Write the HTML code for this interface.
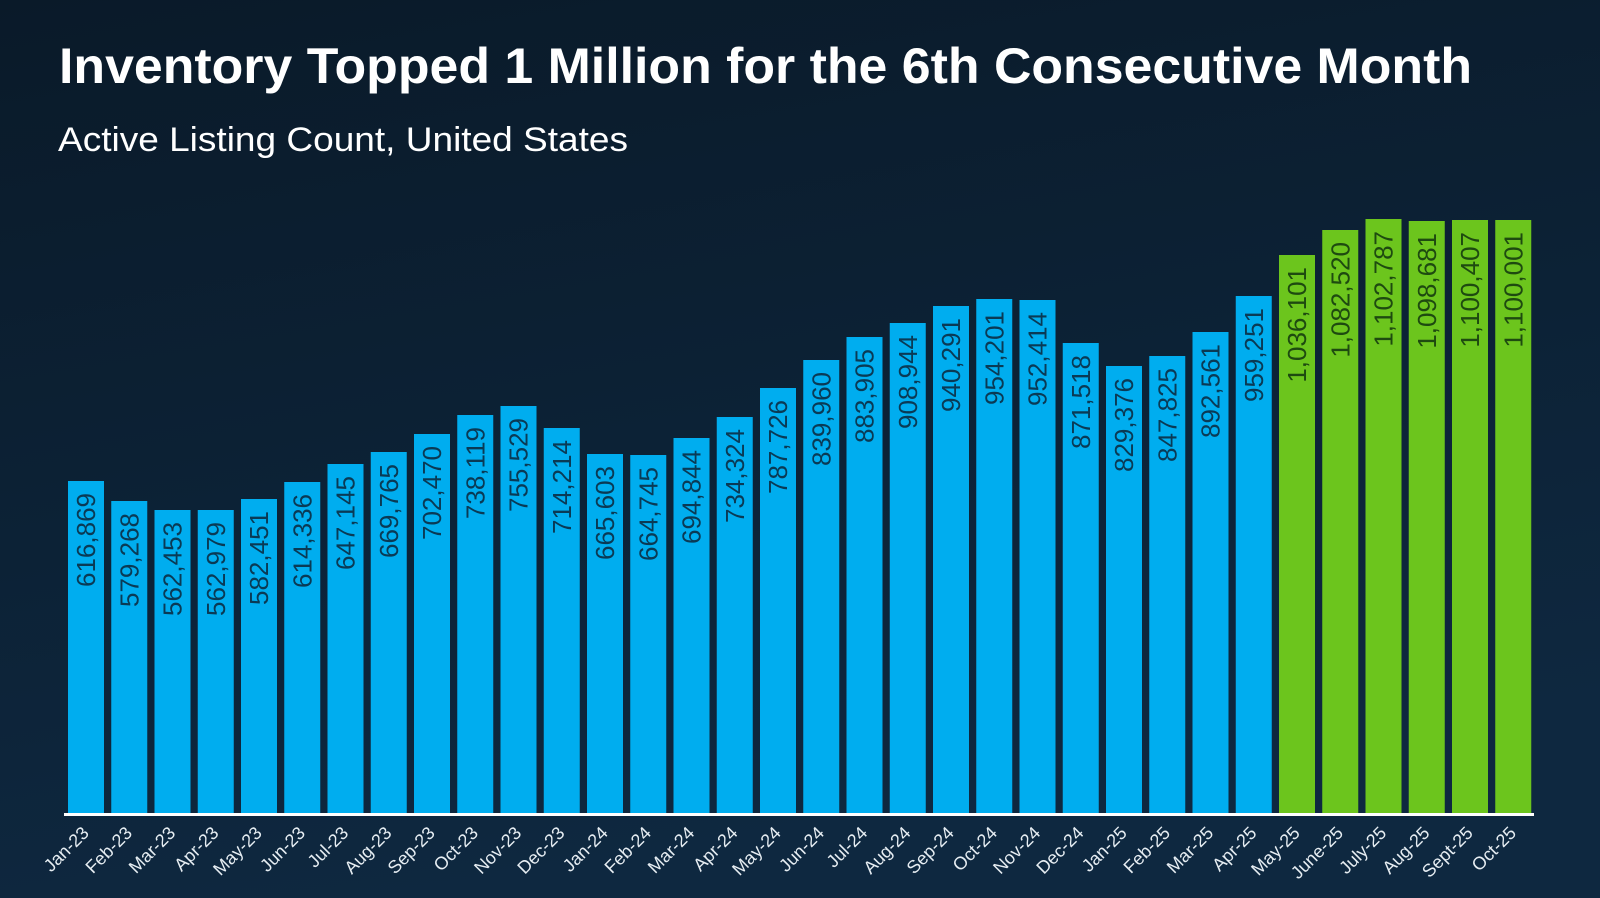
<!DOCTYPE html>
<html><head><meta charset="utf-8"><style>
html,body{margin:0;padding:0;background:#0b1d2d}
svg{display:block}
.t{font-family:"Liberation Sans",sans-serif}
.vb{font-size:26px;fill:#0a3a55;text-anchor:end}
.vg{font-size:26px;fill:#1e4a10;text-anchor:end}
.xl{font-size:18px;fill:#e6edf2;text-anchor:end}
</style></head><body>
<svg width="1600" height="898" viewBox="0 0 1600 898" xmlns="http://www.w3.org/2000/svg" class="t">
<defs><linearGradient id="bg" x1="0" y1="0" x2="0.3" y2="1"><stop offset="0" stop-color="#0a1a29"/><stop offset="1" stop-color="#0e2840"/></linearGradient></defs>
<rect width="1600" height="898" fill="url(#bg)"/>
<text x="59" y="83" font-size="50" font-weight="bold" fill="#fff" textLength="1413" lengthAdjust="spacingAndGlyphs">Inventory Topped 1 Million for the 6th Consecutive Month</text>
<text x="58" y="151" font-size="34" fill="#fff" textLength="570" lengthAdjust="spacingAndGlyphs">Active Listing Count, United States</text>
<g fill="#00adef">
<rect x="68" y="481" width="36" height="332"/>
<rect x="111.25" y="501" width="36" height="312"/>
<rect x="154.5" y="510" width="36" height="303"/>
<rect x="197.75" y="510" width="36" height="303"/>
<rect x="241" y="499" width="36" height="314"/>
<rect x="284.25" y="482" width="36" height="331"/>
<rect x="327.5" y="464" width="36" height="349"/>
<rect x="370.75" y="452" width="36" height="361"/>
<rect x="414" y="434" width="36" height="379"/>
<rect x="457.25" y="415" width="36" height="398"/>
<rect x="500.5" y="406" width="36" height="407"/>
<rect x="543.75" y="428" width="36" height="385"/>
<rect x="587" y="454" width="36" height="359"/>
<rect x="630.25" y="455" width="36" height="358"/>
<rect x="673.5" y="438" width="36" height="375"/>
<rect x="716.75" y="417" width="36" height="396"/>
<rect x="760" y="388" width="36" height="425"/>
<rect x="803.25" y="360" width="36" height="453"/>
<rect x="846.5" y="337" width="36" height="476"/>
<rect x="889.75" y="323" width="36" height="490"/>
<rect x="933" y="306" width="36" height="507"/>
<rect x="976.25" y="299" width="36" height="514"/>
<rect x="1019.5" y="300" width="36" height="513"/>
<rect x="1062.75" y="343" width="36" height="470"/>
<rect x="1106" y="366" width="36" height="447"/>
<rect x="1149.25" y="356" width="36" height="457"/>
<rect x="1192.5" y="332" width="36" height="481"/>
<rect x="1235.75" y="296" width="36" height="517"/>
</g>
<g fill="#6cc51d">
<rect x="1279" y="255" width="36" height="558"/>
<rect x="1322.25" y="230" width="36" height="583"/>
<rect x="1365.5" y="219" width="36" height="594"/>
<rect x="1408.75" y="221" width="36" height="592"/>
<rect x="1452" y="220" width="36" height="593"/>
<rect x="1495.25" y="220" width="36" height="593"/>
</g>
<rect x="64" y="813" width="1470" height="3" fill="#fff"/>
<g class="vb">
<text transform="translate(95,493) rotate(-90)">616,869</text>
<text transform="translate(138.25,513) rotate(-90)">579,268</text>
<text transform="translate(181.5,522) rotate(-90)">562,453</text>
<text transform="translate(224.75,522) rotate(-90)">562,979</text>
<text transform="translate(268,511) rotate(-90)">582,451</text>
<text transform="translate(311.25,494) rotate(-90)">614,336</text>
<text transform="translate(354.5,476) rotate(-90)">647,145</text>
<text transform="translate(397.75,464) rotate(-90)">669,765</text>
<text transform="translate(441,446) rotate(-90)">702,470</text>
<text transform="translate(484.25,427) rotate(-90)">738,119</text>
<text transform="translate(527.5,418) rotate(-90)">755,529</text>
<text transform="translate(570.75,440) rotate(-90)">714,214</text>
<text transform="translate(614,466) rotate(-90)">665,603</text>
<text transform="translate(657.25,467) rotate(-90)">664,745</text>
<text transform="translate(700.5,450) rotate(-90)">694,844</text>
<text transform="translate(743.75,429) rotate(-90)">734,324</text>
<text transform="translate(787,400) rotate(-90)">787,726</text>
<text transform="translate(830.25,372) rotate(-90)">839,960</text>
<text transform="translate(873.5,349) rotate(-90)">883,905</text>
<text transform="translate(916.75,335) rotate(-90)">908,944</text>
<text transform="translate(960,318) rotate(-90)">940,291</text>
<text transform="translate(1003.25,311) rotate(-90)">954,201</text>
<text transform="translate(1046.5,312) rotate(-90)">952,414</text>
<text transform="translate(1089.75,355) rotate(-90)">871,518</text>
<text transform="translate(1133,378) rotate(-90)">829,376</text>
<text transform="translate(1176.25,368) rotate(-90)">847,825</text>
<text transform="translate(1219.5,344) rotate(-90)">892,561</text>
<text transform="translate(1262.75,308) rotate(-90)">959,251</text>
</g>
<g class="vg">
<text transform="translate(1306,267) rotate(-90)">1,036,101</text>
<text transform="translate(1349.25,242) rotate(-90)">1,082,520</text>
<text transform="translate(1392.5,231) rotate(-90)">1,102,787</text>
<text transform="translate(1435.75,233) rotate(-90)">1,098,681</text>
<text transform="translate(1479,232) rotate(-90)">1,100,407</text>
<text transform="translate(1522.25,232) rotate(-90)">1,100,001</text>
</g>
<g class="xl">
<text transform="translate(90,834) rotate(-45)">Jan-23</text>
<text transform="translate(133.25,834) rotate(-45)">Feb-23</text>
<text transform="translate(176.5,834) rotate(-45)">Mar-23</text>
<text transform="translate(219.75,834) rotate(-45)">Apr-23</text>
<text transform="translate(263,834) rotate(-45)">May-23</text>
<text transform="translate(306.25,834) rotate(-45)">Jun-23</text>
<text transform="translate(349.5,834) rotate(-45)">Jul-23</text>
<text transform="translate(392.75,834) rotate(-45)">Aug-23</text>
<text transform="translate(436,834) rotate(-45)">Sep-23</text>
<text transform="translate(479.25,834) rotate(-45)">Oct-23</text>
<text transform="translate(522.5,834) rotate(-45)">Nov-23</text>
<text transform="translate(565.75,834) rotate(-45)">Dec-23</text>
<text transform="translate(609,834) rotate(-45)">Jan-24</text>
<text transform="translate(652.25,834) rotate(-45)">Feb-24</text>
<text transform="translate(695.5,834) rotate(-45)">Mar-24</text>
<text transform="translate(738.75,834) rotate(-45)">Apr-24</text>
<text transform="translate(782,834) rotate(-45)">May-24</text>
<text transform="translate(825.25,834) rotate(-45)">Jun-24</text>
<text transform="translate(868.5,834) rotate(-45)">Jul-24</text>
<text transform="translate(911.75,834) rotate(-45)">Aug-24</text>
<text transform="translate(955,834) rotate(-45)">Sep-24</text>
<text transform="translate(998.25,834) rotate(-45)">Oct-24</text>
<text transform="translate(1041.5,834) rotate(-45)">Nov-24</text>
<text transform="translate(1084.75,834) rotate(-45)">Dec-24</text>
<text transform="translate(1128,834) rotate(-45)">Jan-25</text>
<text transform="translate(1171.25,834) rotate(-45)">Feb-25</text>
<text transform="translate(1214.5,834) rotate(-45)">Mar-25</text>
<text transform="translate(1257.75,834) rotate(-45)">Apr-25</text>
<text transform="translate(1301,834) rotate(-45)">May-25</text>
<text transform="translate(1344.25,834) rotate(-45)">June-25</text>
<text transform="translate(1387.5,834) rotate(-45)">July-25</text>
<text transform="translate(1430.75,834) rotate(-45)">Aug-25</text>
<text transform="translate(1474,834) rotate(-45)">Sept-25</text>
<text transform="translate(1517.25,834) rotate(-45)">Oct-25</text>
</g>
</svg>
</body></html>
